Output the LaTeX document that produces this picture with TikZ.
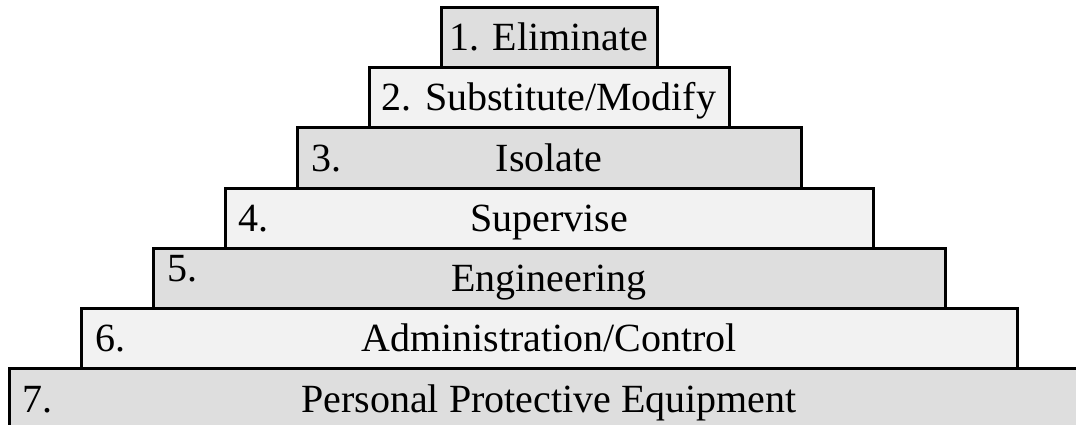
\documentclass[tikz,border=0pt]{standalone}
\usepackage{fontspec}
\setmainfont{Liberation Serif}
\usetikzlibrary{positioning}
\definecolor{tierdark}{HTML}{DEDEDE}
\definecolor{tierlight}{HTML}{F2F2F2}
\tikzset{
  tier/.style={draw=black, line width=2.25pt, minimum height=45.2pt,
    inner sep=0pt, outer sep=0pt, text height=19.9pt, text depth=0pt},
  tiernum/.style={inner sep=0pt, text height=19.9pt, text depth=0pt, anchor=west},
}

\begin{document}
\begin{tikzpicture}[x=0.75pt,y=-0.75pt,font=\fontsize{30}{36}\selectfont]
    \useasboundingbox (0,0) rectangle (1076,425);
    \clip (0,0) rectangle (1076,425);
    % tiers, top to bottom
    \node[tier, fill=tierdark, minimum width=162pt] (t1) at (549,37.35) {1. Eliminate};
    \node[tier, fill=tierlight, minimum width=270pt, below=0pt of t1] (t2) {2. Substitute/Modify};
    \node[tier, fill=tierdark, minimum width=378pt, below=0pt of t2] (t3) {Isolate};
    \node[tier, fill=tierlight, minimum width=486pt, below=0pt of t3] (t4) {Supervise};
    \node[tier, fill=tierdark, minimum width=594pt, below=0pt of t4] (t5) {Engineering};
    \node[tier, fill=tierlight, minimum width=702pt, below=0pt of t5] (t6) {Administration/Control};
    \node[tier, fill=tierdark, minimum width=810pt, below=0pt of t6] (t7) {Personal Protective Equipment};
    % numbers at the left end
    \node[tiernum, right=10.5pt of t3.west] (n3) {3.};
    \node[tiernum, right=10pt of t4.west] (n4) {4.};
    \node[tiernum, right=10.5pt of t5.west, yshift=7.5pt] (n5) {5.};
    \node[tiernum, right=10.5pt of t6.west] (n6) {6.};
    \node[tiernum, right=10pt of t7.west] (n7) {7.};
  \end{tikzpicture}
\end{document}
